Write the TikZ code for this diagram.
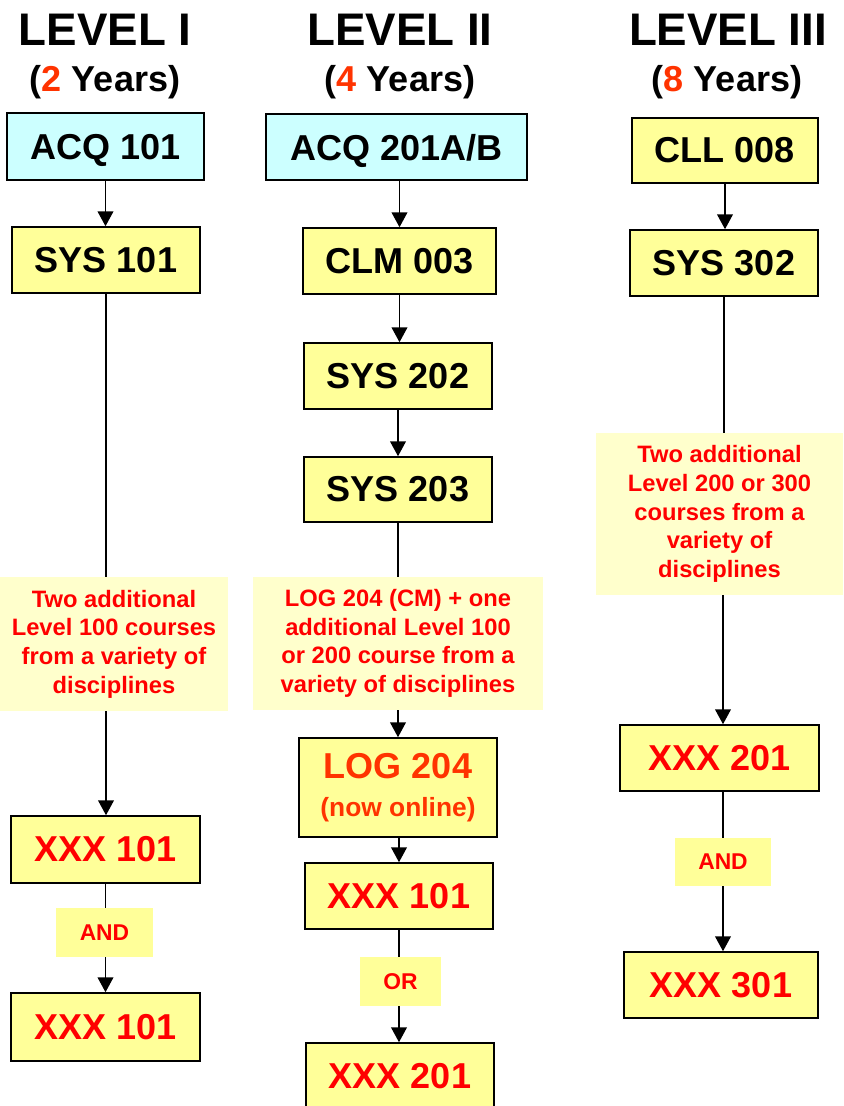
\documentclass[tikz,border=0pt]{standalone}
\usepackage{fontspec}
\setmainfont{Liberation Sans}
\usetikzlibrary{arrows.meta}
\definecolor{boxyellow}{HTML}{FFFF99}
\definecolor{paleyellow}{HTML}{FFFFCC}
\definecolor{palecyan}{HTML}{CCFFFF}
\definecolor{hotred}{HTML}{FF0000}
\definecolor{orangered}{HTML}{FF3300}

\begin{document}
\begin{tikzpicture}[x=0.02cm, y=-0.02cm,
        title/.style={anchor=base, font=\bfseries\fontsize{26}{30}\selectfont},
        years/.style={anchor=base, font=\bfseries\fontsize{20.5}{24}\selectfont},
        course/.style={draw=black, line width=0.9pt, fill=boxyellow, inner sep=0pt,
            font=\bfseries\fontsize{20.5}{24}\selectfont},
        note/.style={fill=paleyellow, inner sep=0pt, align=center, text=hotred,
            font=\bfseries\fontsize{13.5}{16.3}\selectfont},
        joint/.style={fill=boxyellow, inner sep=0pt, text=hotred,
            font=\bfseries\fontsize{13}{15}\selectfont},
        flow/.style={-{Triangle[width=9pt,length=8.5pt]}, line width=0.85pt}]
        \useasboundingbox (0,0) rectangle (844,1106);
        % headings
        \node[title](lvA) at (105,45)  {LEVEL I};
        \node[years](yrA) at (105,91)  {(\textcolor{orangered}{2} Years)};
        \node[title](lvB) at (400,45)  {LEVEL II};
        \node[title](lvC) at (728,45)  {LEVEL III};
        \node[years](yrB) at (400,91)  {(\textcolor{orangered}{4} Years)};
        \node[years](yrC) at (727,91)  {(\textcolor{orangered}{8} Years)};
        % level I
        \node[course, fill=palecyan, text depth=0pt, minimum width=197*0.02cm, minimum height=67*0.02cm](acqA) at (105.5,146.5) {ACQ 101};
        \node[course, minimum width=188*0.02cm, minimum height=66*0.02cm](sysA) at (106,260) {SYS 101};
        \node[note, minimum width=228*0.02cm, minimum height=134*0.02cm](addA) at (114,644)
            {Two additional\\Level 100 courses\\from a variety of\\disciplines};
        \node[course, text=hotred, minimum width=189*0.02cm, minimum height=67*0.02cm](xxxA) at (105.5,849.5) {XXX 101};
        \node[joint, minimum width=97*0.02cm, minimum height=49*0.02cm](andA) at (104.5,932.5) {AND};
        \node[course, text=hotred, minimum width=189*0.02cm, minimum height=68*0.02cm](xxxB) at (105.5,1027) {XXX 101};
        % level II
        \node[course, fill=palecyan, text depth=0pt, minimum width=261*0.02cm, minimum height=66*0.02cm](acqB) at (396.5,147) {ACQ 201A/B};
        \node[course, minimum width=193*0.02cm, minimum height=66*0.02cm](clm) at (399.5,261) {CLM 003};
        \node[course, minimum width=188*0.02cm, minimum height=66*0.02cm](sysB) at (398,376) {SYS 202};
        \node[course, minimum width=188*0.02cm, minimum height=65*0.02cm](sysC) at (398,489.5) {SYS 203};
        \node[note, minimum width=290*0.02cm, minimum height=133*0.02cm](addB) at (398,643.5)
            {LOG 204 (CM) + one\\additional Level 100\\or 200 course from a\\variety of disciplines};
        \node[course, text=orangered, align=center, minimum width=198*0.02cm, minimum height=99*0.02cm](log) at (398,787.5)
            {LOG 204\\[-2pt]{\fontsize{15}{18}\selectfont(now online)}};
        \node[course, text=hotred, minimum width=188*0.02cm, minimum height=66*0.02cm](xxxC) at (399,896) {XXX 101};
        \node[joint, minimum width=81*0.02cm, minimum height=49*0.02cm](orB) at (400.5,981.5) {OR};
        \node[course, text=hotred, minimum width=188*0.02cm, minimum height=66*0.02cm](xxxD) at (400,1076) {XXX 201};
        % level III
        \node[course, minimum width=186*0.02cm, minimum height=65*0.02cm](cll) at (725,150.5) {CLL 008};
        \node[course, minimum width=188*0.02cm, minimum height=66*0.02cm](sysD) at (724,263) {SYS 302};
        \node[note, minimum width=247*0.02cm, minimum height=162*0.02cm](addC) at (719.5,514)
            {Two additional\\Level 200 or 300\\courses from a\\variety of\\disciplines};
        \node[course, text=hotred, minimum width=199*0.02cm, minimum height=66*0.02cm](xxxE) at (719.5,758) {XXX 201};
        \node[joint, minimum width=96*0.02cm, minimum height=48*0.02cm](andC) at (723,862) {AND};
        \node[course, text=hotred, minimum width=194*0.02cm, minimum height=66*0.02cm](xxxF) at (721,985) {XXX 301};
        \path
            (acqA.south) edge [flow] (acqA.south |- sysA.north)
            (sysA.south) edge [line width=0.85pt] (sysA.south |- addA.north)
            (addA.south -| sysA) edge [flow] (sysA |- xxxA.north)
            (xxxA.south) edge [line width=0.85pt] (xxxA.south |- andA.north)
            (andA.south -| xxxA) edge [flow] (xxxA |- xxxB.north)
            (acqB.south -| clm) edge [flow] (clm.north)
            (clm.south) edge [flow] (clm.south |- sysB.north)
            (sysB.south) edge [flow] (sysB.south |- sysC.north)
            (sysC.south) edge [line width=0.85pt] (sysC.south |- addB.north)
            (addB.south -| log) edge [flow] (log.north)
            (log.south -| xxxC) edge [flow] (xxxC.north)
            (xxxC.south) edge [line width=0.85pt] (xxxC.south |- orB.north)
            (orB.south -| xxxC) edge [flow] (xxxC |- xxxD.north)
            (cll.south) edge [flow] (cll.south |- sysD.north)
            (sysD.south) edge [line width=0.85pt] (sysD.south |- addC.north)
            (addC.south -| andC) edge [flow] (andC |- xxxE.north)
            (xxxE.south -| andC) edge [line width=0.85pt] (andC.north)
            (andC.south) edge [flow] (andC.south |- xxxF.north)
            ;
    \end{tikzpicture}
\end{document}
